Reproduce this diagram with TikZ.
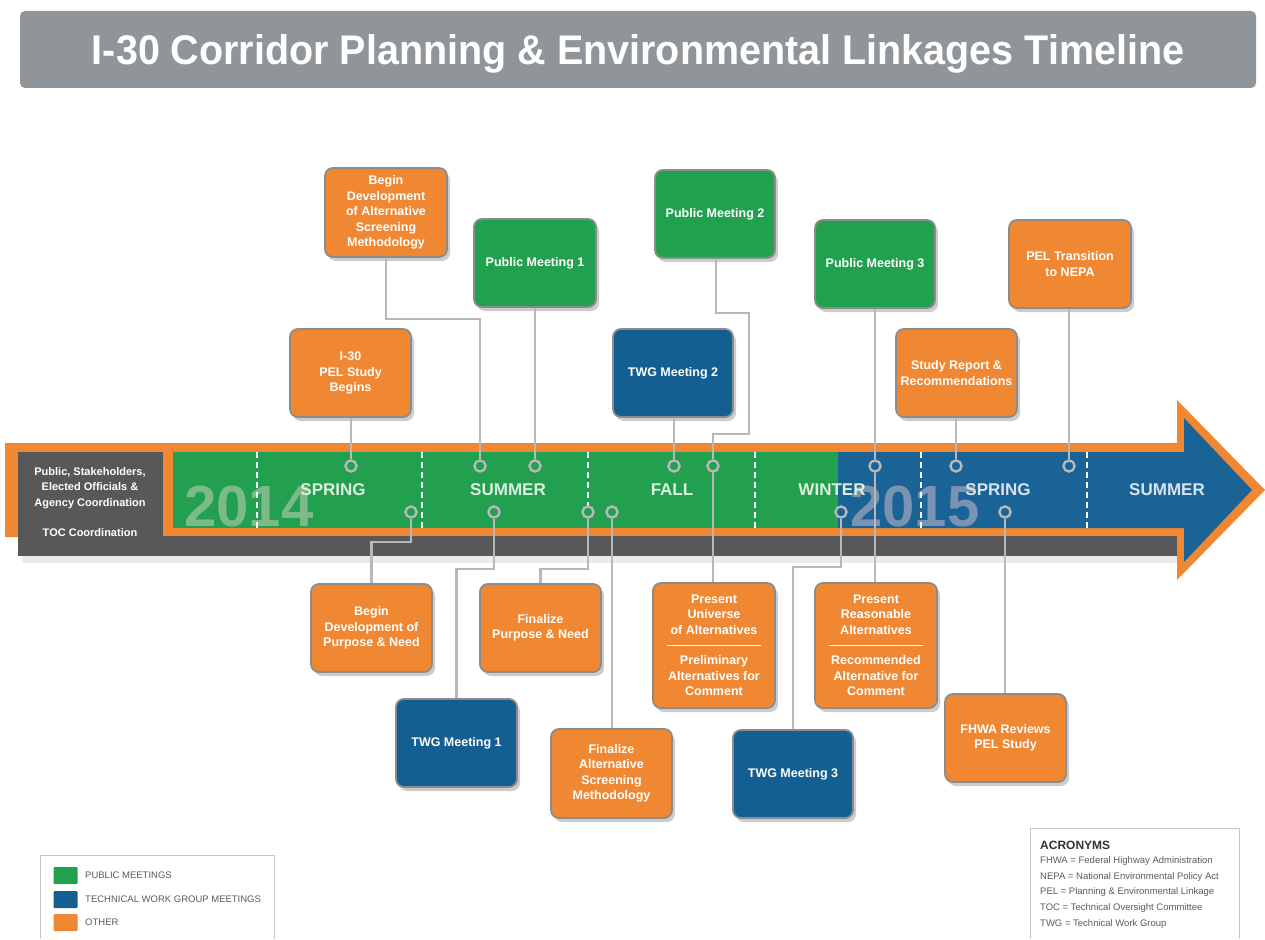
\documentclass[tikz,border=0pt]{standalone}
\usepackage{fontspec}
\setmainfont{Liberation Sans}
\usetikzlibrary{shadows,calc}
\definecolor{tgreen}{HTML}{22A04F}
\definecolor{tblue}{HTML}{1A6396}
\definecolor{bgreen}{HTML}{21A04E}
\definecolor{bblue}{HTML}{135F91}
\definecolor{torange}{HTML}{F08732}
\definecolor{tdark}{HTML}{58585B}
\definecolor{tline}{HTML}{B8B8B8}
\definecolor{tborder}{HTML}{8C8C8C}
\definecolor{ttitle}{HTML}{8F9599}
\definecolor{yeargreen}{HTML}{7DBA89}
\definecolor{yearblue}{HTML}{7A93B2}
\definecolor{seasongreen}{HTML}{DDEFDD}
\definecolor{seasonblue}{HTML}{D9E3EE}
\definecolor{ttext}{HTML}{5A5A5A}
\begin{document}
\begin{tikzpicture}[x=1pt,y=-1pt,
  evbox/.style={draw=tborder, line width=1.8pt, rounded corners=8pt,
    minimum width=121pt, minimum height=88pt, inner sep=0pt, align=center,
    text=white, font=\fontsize{12.5}{15.5}\selectfont\bfseries,
    drop shadow={shadow xshift=3pt,shadow yshift=-4pt,opacity=0.2,fill=black}},
  pubbox/.style={evbox, fill=bgreen},
  twgbox/.style={evbox, fill=bblue},
  othbox/.style={evbox, fill=torange},
  tallbox/.style={othbox, minimum height=125pt},
  conn/.style={draw=tline, line width=2.4pt},
  mark green/.style={circle, draw=tline, line width=2.2pt, fill=tgreen, minimum size=11pt, inner sep=0pt},
  mark blue/.style={mark green, fill=tblue},
  sep/.style={draw=white, line width=2pt, dash pattern=on 6pt off 4pt},
  season/.style={font=\fontsize{17}{17}\selectfont\bfseries, text=seasongreen},
  seasonb/.style={season, text=seasonblue},
  year/.style={font=\fontsize{58}{58}\selectfont\bfseries, inner sep=0pt},
  legsq/.style={minimum width=24pt, minimum height=17pt, inner sep=0pt, rounded corners=1pt},
  legtext/.style={anchor=west, text=ttext, font=\fontsize{9.5}{11}\selectfont, inner sep=0pt},
  acrtext/.style={anchor=west, text=ttext, font=\fontsize{9.5}{11}\selectfont, inner sep=0pt}
]
\useasboundingbox (0,0) rectangle (1265,939);
\fill[white] (0,0) rectangle (1265,939);

% title banner
\fill[ttitle] [rounded corners=5pt] (20,11) rectangle (1256,88);
\node[anchor=base, text=white, inner sep=0pt] (title) at (638,65)
  {\resizebox{1092pt}{30pt}{\bfseries I-30 Corridor Planning \& Environmental Linkages Timeline}};

% timeline arrow
\fill[black, opacity=0.08] (22,556) rectangle (1177,563);
\fill[torange] (5,443) -- (1177,443) -- (1177,400) -- (1265,490) -- (1177,580) -- (1177,537) -- (5,537) -- cycle;
\fill[tdark] (18,536) rectangle (1177,556);
\fill[tdark] (18,452) rectangle (163,556);
\fill[tgreen] (173,452) rectangle (838,528);
\fill[tblue] (838,452) -- (1184,452) -- (1184,418) -- (1252,490) -- (1184,562) -- (1184,528) -- (838,528) -- cycle;

% years
\node[year, text=yeargreen] (y2014) at (249,507) {2014};
\node[year, text=yearblue] (y2015) at (915,507) {2015};

% season separators
\foreach \sx in {257,422,588,755,921,1087}
  \draw[sep] (\sx,452) -- (\sx,528);

% seasons
\node[season] (s1) at (333,490) {SPRING};
\node[season] (s2) at (508,490) {SUMMER};
\node[season] (s3) at (672,490) {FALL};
\node[season] (s4) at (832,490) {WINTER};
\node[seasonb] (s5) at (998,490) {SPRING};
\node[seasonb] (s6) at (1167,490) {SUMMER};

% left box text
\node[text=white, align=center, font=\fontsize{11}{15.5}\selectfont\bfseries, inner sep=0pt] (who) at (90,488)
  {Public, Stakeholders,\\Elected Officials \&\\Agency Coordination};
\node[text=white, font=\fontsize{11}{13}\selectfont\bfseries, inner sep=0pt] (toc) at (90,533) {TOC Coordination};

% markers
\node[mark green] (ct351) at (351,466) {};
\node[mark green] (ct480) at (480,466) {};
\node[mark green] (ct535) at (535,466) {};
\node[mark green] (ct674) at (674,466) {};
\node[mark green] (ct713) at (713,466) {};
\node[mark blue] (ct875) at (875,466) {};
\node[mark blue] (ct956) at (956,466) {};
\node[mark blue] (ct1069) at (1069,466) {};
\node[mark green] (cb411) at (411,512) {};
\node[mark green] (cb494) at (494,512) {};
\node[mark green] (cb588) at (588,512) {};
\node[mark green] (cb612) at (612,512) {};
\node[mark blue] (cb841) at (841,512) {};
\node[mark blue] (cb1005) at (1005,512) {};

% boxes above
\node[othbox, minimum width=122pt, minimum height=89pt] (adev) at (386,212.5)
  {Begin\\Development\\of Alternative\\Screening\\Methodology};
\node[pubbox, minimum width=122pt] (pm1) at (535,263) {Public Meeting 1};
\node[pubbox, minimum width=120pt] (pm2) at (715,214) {Public Meeting 2};
\node[pubbox, minimum width=120pt] (pm3) at (875,264) {Public Meeting 3};
\node[othbox, minimum width=122pt] (nepa) at (1070,264) {PEL Transition\\to NEPA};
\node[othbox] (pel) at (350.5,373) {I-30\\PEL Study\\Begins};
\node[twgbox, minimum width=120pt] (twg2) at (673,373) {TWG Meeting 2};
\node[othbox] (sr) at (956.5,373) {Study Report \&\\Recommendations};

% boxes below
\node[othbox] (pndev) at (371.5,628) {Begin\\Development of\\Purpose \& Need};
\node[othbox] (fpn) at (540.5,628) {Finalize\\Purpose \& Need};
\node[tallbox, minimum width=122pt] (pu) at (714,645.5)
  {Present\\Universe\\of Alternatives\\[15pt]Preliminary\\Alternatives for\\Comment};
\node[tallbox, minimum width=122pt] (pr) at (876,645.5)
  {Present\\Reasonable\\Alternatives\\[15pt]Recommended\\Alternative for\\Comment};
\node[twgbox] (twg1) at (456.5,743) {TWG Meeting 1};
\node[othbox, minimum height=89pt] (fas) at (611.5,773.5)
  {Finalize\\Alternative\\Screening\\Methodology};
\node[twgbox, minimum width=120pt] (twg3) at (793,774) {TWG Meeting 3};
\node[othbox] (fhwa) at (1005.5,738) {FHWA Reviews\\PEL Study};

% separators inside tall boxes
\draw[white, line width=1pt] ($(pu.center)+(-47,0)$) -- ($(pu.center)+(47,0)$);
\draw[white, line width=1pt] ($(pr.center)+(-47,0)$) -- ($(pr.center)+(47,0)$);

% connectors
\path[conn] (ct351 |- pel.south) -- (ct351);
\path[conn] (adev.south) -- ++(0,61) -| (ct480);
\path[conn] (ct535 |- pm1.south) -- (ct535);
\path[conn] (ct674 |- twg2.south) -- (ct674);
\path[conn] ($(pm2.south)+(1,0)$) -- ++(0,54) -- ++(33,0) -- ++(0,121) -| (ct713);
\path[conn] (ct713) -- (ct713 |- pu.north);
\path[conn] (ct875 |- pm3.south) -- (ct875);
\path[conn] (ct875) -- (ct875 |- pr.north);
\path[conn] (ct956 |- sr.south) -- (ct956);
\path[conn] (ct1069 |- nepa.south) -- (ct1069);
\path[conn] (pndev.north) -- ++(0,-41) -| (cb411);
\path[conn] (twg1.north) -- ++(0,-129) -| (cb494);
\path[conn] (fpn.north) -- ++(0,-14) -| (cb588);
\path[conn] (cb612) -- (cb612 |- fas.north);
\path[conn] (twg3.north) -- ++(0,-162) -| (cb841);
\path[conn] (cb1005) -- (cb1005 |- fhwa.north);

% redraw markers on top of connectors
\foreach \m/\c in {ct351/tgreen,ct480/tgreen,ct535/tgreen,ct674/tgreen,ct713/tgreen,ct875/tblue,ct956/tblue,ct1069/tblue,cb411/tgreen,cb494/tgreen,cb588/tgreen,cb612/tgreen,cb841/tblue,cb1005/tblue}
  \draw[tline, line width=2.2pt, fill=\c] (\m.center) circle (5.5pt);

% legend
\draw[tline!80, line width=1pt] (40,939) -- (40,855) -- (274,855) -- (274,939);
\node[legsq, fill=bgreen] (lg1) at (65.5,875.5) {};
\node[legsq, fill=bblue] (lg2) at (65.5,899.5) {};
\node[legsq, fill=torange] (lg3) at (65.5,922.5) {};
\node[legtext] (lt1) at (85,875) {PUBLIC MEETINGS};
\node[legtext] (lt2) at (85,899) {TECHNICAL WORK GROUP MEETINGS};
\node[legtext] (lt3) at (85,922) {OTHER};

% acronyms
\draw[tline!80, line width=1pt] (1030,939) -- (1030,828) -- (1239,828) -- (1239,939);
\node[anchor=west, text=black!80, font=\fontsize{12}{14}\selectfont\bfseries, inner sep=0pt] (acr) at (1040,845) {ACRONYMS};
\node[acrtext] (a1) at (1040,861) {FHWA = Federal Highway Administration};
\node[acrtext] (a2) at (1040,877) {NEPA = National Environmental Policy Act};
\node[acrtext] (a3) at (1040,892) {PEL = Planning \& Environmental Linkage};
\node[acrtext] (a4) at (1040,908) {TOC = Technical Oversight Committee};
\node[acrtext] (a5) at (1040,924) {TWG = Technical Work Group};
\end{tikzpicture}
\end{document}
